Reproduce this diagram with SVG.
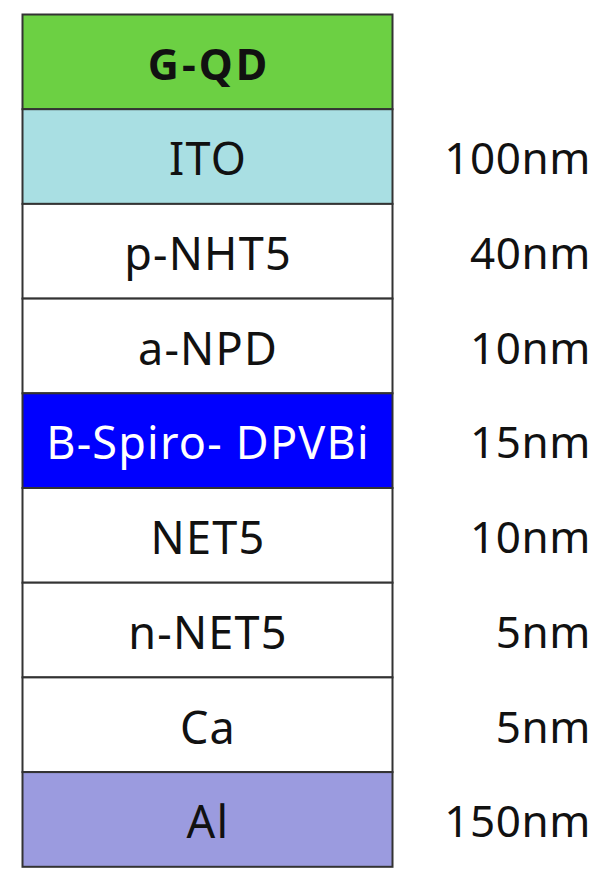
<svg xmlns="http://www.w3.org/2000/svg" width="605" height="881" viewBox="0 0 605 881">
<style>
.l{stroke:#333;stroke-width:2}
.t{font-family:"Noto Sans","Open Sans",sans-serif;font-size:45px;letter-spacing:1.2px;fill:#111;text-anchor:middle;dominant-baseline:central}
.n{font-family:"Noto Sans","Open Sans",sans-serif;font-size:44px;letter-spacing:0.6px;fill:#111;text-anchor:end;dominant-baseline:central}
</style>
<rect width="605" height="881" fill="#fff"/>
<g id="gqd"><rect class="l" x="22.5" y="14.5" width="370" height="94.7" fill="#6CD043"/><text class="t" x="209" y="63" font-weight="bold" style="font-size:43px;letter-spacing:3px">G-QD</text></g>
<g id="ito"><rect class="l" x="22.5" y="109.2" width="370" height="94.7" fill="#A9DFE3"/><text class="t" x="208" y="157">ITO</text><text class="n" x="591" y="157">100nm</text></g>
<g id="pnht5"><rect class="l" x="22.5" y="203.9" width="370" height="94.7" fill="#fff"/><text class="t" x="208" y="252">p-NHT5</text><text class="n" x="591" y="252">40nm</text></g>
<g id="anpd"><rect class="l" x="22.5" y="298.6" width="370" height="94.7" fill="#fff"/><text class="t" x="208" y="347">a-NPD</text><text class="n" x="591" y="347">10nm</text></g>
<g id="bspiro"><rect class="l" x="22.5" y="393.3" width="370" height="94.7" fill="#0000FF"/><text class="t" x="208" y="441" style="fill:#fff">B-Spiro- DPVBi</text><text class="n" x="591" y="441">15nm</text></g>
<g id="net5"><rect class="l" x="22.5" y="488" width="370" height="94.7" fill="#fff"/><text class="t" x="208" y="536">NET5</text><text class="n" x="591" y="536">10nm</text></g>
<g id="nnet5"><rect class="l" x="22.5" y="582.7" width="370" height="94.7" fill="#fff"/><text class="t" x="208" y="631">n-NET5</text><text class="n" x="591" y="631">5nm</text></g>
<g id="ca"><rect class="l" x="22.5" y="677.4" width="370" height="94.7" fill="#fff"/><text class="t" x="208" y="726">Ca</text><text class="n" x="591" y="726">5nm</text></g>
<g id="al"><rect class="l" x="22.5" y="772.1" width="370" height="94.7" fill="#9B9BDF"/><text class="t" x="208" y="820">Al</text><text class="n" x="591" y="820">150nm</text></g>
</svg>
